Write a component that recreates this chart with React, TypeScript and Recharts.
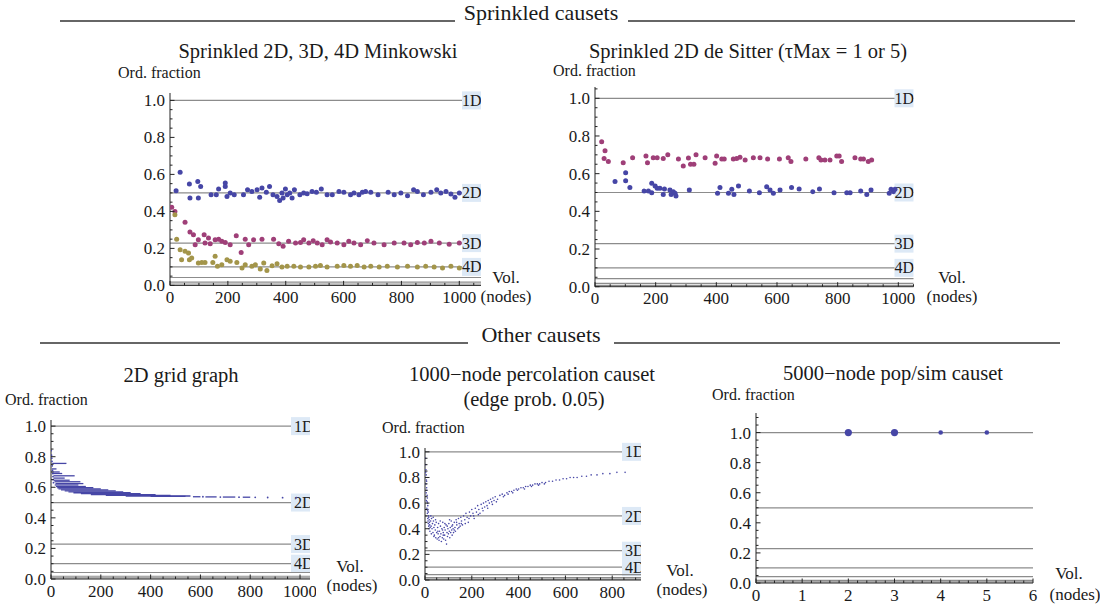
import { ReferenceLine, Scatter, ScatterChart, XAxis, YAxis } from 'recharts';

const FONT = "'Liberation Serif', 'Times New Roman', Times, serif";
const BLUE = '#4646a6';
const PURPLE = '#9f3f78';
const OLIVE = '#a3954a';
const REF = '#8c8c8c';
const INK = '#1a1a1a';

// ordering fraction of d-dim Minkowski: 1D .. 7D
const dimLines: [number, string][] = [
  [1, '1D'],
  [0.5, '2D'],
  [0.2286, '3D'],
  [0.1, '4D'],
  [0.0426, ''],
  [0.0179, ''],
  [0.0074, ''],
];

const yMajor = [0, 0.2, 0.4, 0.6, 0.8, 1.0];
const xMajor1000 = [0, 200, 400, 600, 800, 1000];
const xMajor800 = [0, 200, 400, 600, 800];
const xMajor6 = [0, 1, 2, 3, 4, 5, 6];

// sprinkled Minkowski
const mink2D: [number, number][] = [
  [21, 0.512], [35, 0.611], [67, 0.548], [69, 0.472], [96, 0.562], [98, 0.472], [106, 0.535], [142, 0.49],
  [160, 0.49], [168, 0.521], [191, 0.553], [191, 0.535], [197, 0.481], [208, 0.499], [222, 0.49], [254, 0.49],
  [268, 0.517], [283, 0.508], [301, 0.517], [310, 0.477], [318, 0.526], [333, 0.503], [344, 0.535], [356, 0.49],
  [370, 0.481], [379, 0.459], [387, 0.499], [391, 0.472], [399, 0.521], [405, 0.49], [414, 0.499], [422, 0.472],
  [430, 0.517], [449, 0.49], [462, 0.499], [474, 0.495], [491, 0.508], [506, 0.503], [523, 0.521], [543, 0.49],
  [561, 0.49], [584, 0.508], [601, 0.503], [624, 0.49], [636, 0.499], [653, 0.49], [665, 0.503], [676, 0.508],
  [694, 0.503], [719, 0.49], [754, 0.503], [775, 0.49], [798, 0.499], [821, 0.485], [842, 0.517], [855, 0.508],
  [876, 0.49], [902, 0.503], [922, 0.517], [936, 0.499], [954, 0.508], [971, 0.494], [985, 0.477], [1000, 0.499],
];
const mink3D: [number, number][] = [
  [6, 0.422], [17, 0.4], [52, 0.341], [69, 0.288], [81, 0.274], [87, 0.22], [98, 0.247], [118, 0.274],
  [121, 0.229], [133, 0.256], [139, 0.225], [156, 0.247], [168, 0.25], [179, 0.238], [191, 0.232], [208, 0.22],
  [229, 0.268], [246, 0.178], [260, 0.25], [272, 0.22], [289, 0.247], [318, 0.25], [358, 0.25], [376, 0.225],
  [391, 0.211], [410, 0.238], [434, 0.229], [451, 0.232], [462, 0.247], [480, 0.229], [495, 0.241], [509, 0.229],
  [526, 0.22], [543, 0.247], [555, 0.234], [578, 0.229], [601, 0.22], [618, 0.238], [636, 0.229], [659, 0.22],
  [682, 0.241], [705, 0.229], [740, 0.22], [775, 0.229], [809, 0.229], [832, 0.22], [855, 0.232], [879, 0.229],
  [902, 0.238], [931, 0.229], [965, 0.223], [1000, 0.229],
];
const mink4D: [number, number][] = [
  [17, 0.382], [23, 0.25], [35, 0.193], [40, 0.139], [52, 0.184], [64, 0.175], [67, 0.139], [75, 0.148],
  [98, 0.121], [110, 0.124], [121, 0.124], [148, 0.124], [156, 0.157], [164, 0.103], [179, 0.112], [197, 0.139],
  [208, 0.13], [231, 0.124], [249, 0.094], [260, 0.112], [283, 0.103], [295, 0.112], [312, 0.088], [324, 0.121],
  [335, 0.081], [353, 0.106], [370, 0.117], [387, 0.099], [405, 0.103], [428, 0.103], [451, 0.099], [480, 0.099],
  [503, 0.103], [520, 0.108], [543, 0.099], [578, 0.103], [601, 0.108], [624, 0.103], [647, 0.108], [671, 0.099],
  [694, 0.103], [723, 0.099], [751, 0.103], [786, 0.099], [821, 0.103], [855, 0.099], [884, 0.103], [913, 0.099],
  [942, 0.094], [971, 0.103], [1000, 0.094],
];

// sprinkled de Sitter
const deSitterUpper: [number, number][] = [
  [22, 0.77], [33, 0.722], [30, 0.681], [44, 0.664], [93, 0.658], [124, 0.685], [168, 0.694], [173, 0.658],
  [192, 0.685], [205, 0.685], [225, 0.68], [240, 0.7], [275, 0.678], [291, 0.64], [308, 0.683], [315, 0.65],
  [326, 0.65], [333, 0.7], [363, 0.685], [396, 0.655], [401, 0.694], [418, 0.678], [426, 0.678], [456, 0.678],
  [467, 0.681], [478, 0.687], [495, 0.673], [522, 0.685], [544, 0.685], [569, 0.678], [608, 0.678], [637, 0.685],
  [646, 0.664], [695, 0.678], [738, 0.685], [745, 0.673], [758, 0.673], [775, 0.673], [797, 0.694], [805, 0.694],
  [813, 0.664], [857, 0.685], [876, 0.678], [885, 0.678], [901, 0.664], [912, 0.673],
];
const deSitterLower: [number, number][] = [
  [66, 0.558], [101, 0.605], [101, 0.563], [115, 0.527], [162, 0.508], [176, 0.508], [187, 0.549], [187, 0.499],
  [198, 0.535], [205, 0.522], [214, 0.522], [225, 0.49], [229, 0.519], [247, 0.513], [251, 0.49], [258, 0.504],
  [264, 0.496], [267, 0.481], [311, 0.513], [404, 0.496], [412, 0.527], [440, 0.496], [451, 0.517], [458, 0.49],
  [473, 0.535], [509, 0.508], [542, 0.499], [566, 0.531], [577, 0.513], [588, 0.496], [610, 0.513], [648, 0.527],
  [673, 0.519], [718, 0.504], [740, 0.519], [788, 0.499], [830, 0.499], [841, 0.499], [876, 0.508], [896, 0.49],
  [910, 0.513], [970, 0.496], [976, 0.517], [984, 0.504], [989, 0.517],
];

// 2D grid graph: runs of nearly equal values [from, to, fraction]
const gridRuns: [number, number, number][] = [
  [5, 62, 0.756], [10, 95, 0.675], [14, 118, 0.636], [18, 130, 0.624], [4, 22, 0.72], [6, 35, 0.7],
  [8, 45, 0.69], [10, 55, 0.66], [12, 75, 0.646], [15, 110, 0.615], [20, 140, 0.605], [25, 170, 0.597],
  [30, 200, 0.59], [40, 230, 0.583], [55, 260, 0.576], [70, 290, 0.57], [90, 320, 0.564], [120, 360, 0.558],
  [160, 420, 0.552], [220, 480, 0.547], [300, 560, 0.543], [400, 540, 0.54], [570, 600, 0.538],
  [620, 665, 0.537], [690, 740, 0.536], [770, 800, 0.535],
];
const gridDots: [number, number][] = [
  [1, 0.84], [2, 0.81], [3, 0.79], [4, 0.77], [5, 0.74], [6, 0.71], [7, 0.69], [8, 0.67], [9, 0.65],
  [10, 0.63], [610, 0.538], [680, 0.536], [755, 0.535], [820, 0.534], [870, 0.533], [930, 0.532], [985, 0.532],
];

// percolation causet
const percolation: [number, number][] = [
  [2, 0.95], [3, 0.9], [4, 0.86], [5, 0.82], [6, 0.78], [4, 0.75], [7, 0.72], [8, 0.7], [5, 0.68], [9, 0.66],
  [10, 0.64], [6, 0.62], [11, 0.6], [12, 0.58], [8, 0.56], [13, 0.55], [14, 0.53], [10, 0.52], [15, 0.5],
  [16, 0.49], [12, 0.48], [18, 0.47], [19, 0.45], [14, 0.44], [20, 0.43], [22, 0.41], [17, 0.4],
  [3, 0.84], [7, 0.77], [9, 0.61], [11, 0.54], [13, 0.46], [16, 0.42], [21, 0.38], [25, 0.5], [27, 0.36],
  [24, 0.46], [26, 0.42], [28, 0.48], [30, 0.4], [32, 0.44], [34, 0.37], [36, 0.46], [38, 0.41], [40, 0.35],
  [42, 0.43], [44, 0.39], [46, 0.33], [48, 0.45], [50, 0.37], [52, 0.32], [54, 0.41], [56, 0.36], [58, 0.44],
  [60, 0.31], [62, 0.38], [64, 0.34], [66, 0.42], [68, 0.36], [70, 0.3], [72, 0.4], [74, 0.33], [76, 0.45],
  [78, 0.37], [80, 0.32], [82, 0.41], [84, 0.35], [86, 0.39], [88, 0.31], [90, 0.43], [92, 0.28], [94, 0.37],
  [96, 0.34], [98, 0.4], [100, 0.36], [102, 0.44], [104, 0.38], [106, 0.33], [108, 0.41], [110, 0.37],
  [35, 0.49], [45, 0.47], [55, 0.38], [65, 0.46], [75, 0.39], [85, 0.44], [95, 0.42], [105, 0.47],
  [115, 0.42], [125, 0.39], [135, 0.45], [145, 0.41], [155, 0.44], [38, 0.34], [58, 0.33], [78, 0.35],
  [112, 0.46], [114, 0.39], [116, 0.35], [118, 0.43], [120, 0.4], [122, 0.37], [125, 0.45], [128, 0.41],
  [130, 0.38], [133, 0.47], [136, 0.43], [140, 0.4], [143, 0.48], [146, 0.44], [150, 0.42], [153, 0.49],
  [156, 0.46], [160, 0.43], [165, 0.5], [170, 0.47], [175, 0.52], [180, 0.49], [185, 0.45], [190, 0.53],
  [195, 0.5], [200, 0.55], [205, 0.52], [210, 0.48], [215, 0.56], [220, 0.53], [225, 0.58], [230, 0.55],
  [235, 0.52], [240, 0.59], [245, 0.56], [250, 0.6], [255, 0.57], [260, 0.61], [265, 0.58], [270, 0.62],
  [172, 0.44], [188, 0.48], [208, 0.5], [228, 0.51], [248, 0.54], [268, 0.56], [288, 0.59], [305, 0.61],
  [275, 0.6], [280, 0.63], [285, 0.61], [290, 0.64], [295, 0.62], [300, 0.65], [310, 0.63], [320, 0.66],
  [330, 0.67], [340, 0.66], [350, 0.68], [360, 0.69], [370, 0.69], [380, 0.7], [390, 0.71], [400, 0.71],
  [410, 0.72], [420, 0.72], [430, 0.73], [440, 0.73], [450, 0.74], [460, 0.74], [470, 0.75], [480, 0.75],
  [335, 0.65], [355, 0.67], [375, 0.68], [395, 0.7], [425, 0.71], [455, 0.73], [485, 0.74], [510, 0.75],
  [490, 0.75], [500, 0.76], [515, 0.76], [530, 0.77], [545, 0.77], [560, 0.78], [575, 0.78], [590, 0.79],
  [605, 0.79], [620, 0.8], [635, 0.8], [650, 0.8], [670, 0.81], [690, 0.81], [710, 0.82], [735, 0.82],
  [760, 0.83], [790, 0.83], [820, 0.84], [855, 0.84],
];

// pop/sim causet
const popSimLarge: [number, number][] = [[2, 1], [3, 1]];
const popSimSmall: [number, number][] = [[4, 1], [5, 1]];

const toXY = (arr: [number, number][]) => arr.map(([x, y]) => ({ x, y }));

function steps(max: number, step: number) {
  const out: number[] = [];
  for (let v = 0; v <= max + 1e-9; v += step) out.push(Math.round(v * 1000) / 1000);
  return out;
}

const isIn = (list: number[], v: number) => list.some((m) => Math.abs(m - v) < 1e-6);

function dot(r: number, fill: string) {
  return (p: any) => <circle cx={p.cx} cy={p.cy} r={r} fill={fill} />;
}

let clipSeq = 0;

function DimLabel({ viewBox, text, clip }: any) {
  if (!text || !viewBox) return null;
  const right = viewBox.x + viewBox.width;
  const y = viewBox.y;
  const id = `dimclip-${clipSeq++}`;
  return (
    <g>
      <defs>
        <clipPath id={id}>
          <rect x={viewBox.x} y={y - 12} width={viewBox.width} height={24} />
        </clipPath>
      </defs>
      <rect x={right - 19} y={y - 9} width={19} height={18} fill="#dde9f6" />
      <text
        x={clip ? right - 16 : right - 19}
        y={y}
        dy="0.35em"
        fill={INK}
        style={{ fontFamily: FONT, fontSize: 16 }}
        clipPath={`url(#${id})`}
      >
        {text}
      </text>
    </g>
  );
}

type PanelProps = {
  left: number;
  top: number;
  width: number;
  height: number;
  xMax: number;
  yMax: number;
  xMajor: number[];
  xMinor: number;
  clipLabels?: boolean;
  labels?: boolean;
  children?: React.ReactNode;
};

function Panel({ left, top, width, height, xMax, yMax, xMajor, xMinor, clipLabels, labels = true, children }: PanelProps) {
  const yw = 50;
  const padTop = 10;
  const xh = 28;
  const padRight = 6;
  const xTicks = steps(xMax, xMinor);
  const yTicks = steps(yMax, 0.05);
  return (
    <div style={{ position: 'absolute', left: left - yw, top: top - padTop }}>
      <ScatterChart
        width={width + yw + padRight}
        height={height + padTop + xh}
        margin={{ top: padTop, right: padRight, bottom: 0, left: 0 }}
      >
        <XAxis
          type="number"
          dataKey="x"
          domain={[0, xMax]}
          ticks={xTicks}
          interval={0}
          tickSize={0}
          tickMargin={0}
          tickLine={false}
          height={xh}
          allowDataOverflow
          axisLine={{ stroke: '#222' }}
          tick={(p: any) => {
            const major = isIn(xMajor, p.payload.value);
            return (
              <g>
                <line x1={p.x} x2={p.x} y1={p.y} y2={p.y - (major ? 4.5 : 2.5)} stroke="#222" />
                {major && (
                  <text x={p.x} y={p.y + 4} dy="0.8em" textAnchor="middle" fill={INK} style={{ fontFamily: FONT, fontSize: 17 }}>
                    {p.payload.value}
                  </text>
                )}
              </g>
            );
          }}
        />
        <YAxis
          type="number"
          dataKey="y"
          domain={[0, yMax]}
          ticks={yTicks}
          interval={0}
          tickSize={0}
          tickMargin={0}
          tickLine={false}
          width={yw}
          allowDataOverflow
          axisLine={{ stroke: '#222' }}
          tick={(p: any) => {
            const major = isIn(yMajor, p.payload.value);
            return (
              <g>
                <line x1={p.x} x2={p.x + (major ? 4.5 : 2.5)} y1={p.y} y2={p.y} stroke="#222" />
                {major && (
                  <text x={p.x - 5} y={p.y} dy="0.35em" textAnchor="end" fill={INK} style={{ fontFamily: FONT, fontSize: 17 }}>
                    {p.payload.value.toFixed(1)}
                  </text>
                )}
              </g>
            );
          }}
        />
        {dimLines.map(([v, name]) => (
          <ReferenceLine
            key={name + v}
            y={v}
            stroke={REF}
            strokeWidth={1.2}
            label={labels && name ? (p: any) => <DimLabel {...p} text={name} clip={clipLabels} /> : undefined}
          />
        ))}
        {children}
      </ScatterChart>
    </div>
  );
}

function T({ x, y, size = 17, anchor = 'start', children }: any) {
  return (
    <text x={x} y={y} textAnchor={anchor} fill={INK} style={{ fontFamily: FONT, fontSize: size }}>
      {children}
    </text>
  );
}

export default function App() {
  return (
    <div style={{ position: 'absolute', left: 0, top: 0, width: 1100, height: 608, background: '#fff', fontFamily: FONT }}>
      <svg width={1100} height={608} style={{ position: 'absolute', left: 0, top: 0 }}>
        <T x={541} y={20} size={22} anchor="middle">Sprinkled causets</T>
        <line x1={60} x2={455} y1={21} y2={21} stroke="#333" strokeWidth={1.3} />
        <line x1={628} x2={1075} y1={21} y2={21} stroke="#333" strokeWidth={1.3} />
        <T x={318} y={58} size={20.5} anchor="middle">Sprinkled 2D, 3D, 4D Minkowski</T>
        <T x={118} y={78} size={16}>Ord. fraction</T>
        <T x={506} y={283} anchor="middle">Vol.</T>
        <T x={506} y={302} anchor="middle">(nodes)</T>
        <T x={748} y={58} size={20.5} anchor="middle">Sprinkled 2D de Sitter (τMax = 1 or 5)</T>
        <T x={553} y={76} size={16}>Ord. fraction</T>
        <T x={952} y={283} anchor="middle">Vol.</T>
        <T x={952} y={302} anchor="middle">(nodes)</T>

        <T x={541} y={342} size={22} anchor="middle">Other causets</T>
        <line x1={40} x2={468} y1={343} y2={343} stroke="#333" strokeWidth={1.3} />
        <line x1={614} x2={1060} y1={343} y2={343} stroke="#333" strokeWidth={1.3} />
        <T x={181} y={382} size={20.5} anchor="middle">2D grid graph</T>
        <T x={5} y={405} size={16}>Ord. fraction</T>
        <T x={350} y={572} anchor="middle">Vol.</T>
        <T x={352} y={591} anchor="middle">(nodes)</T>
        <T x={532} y={381} size={20.5} anchor="middle">1000−node percolation causet</T>
        <T x={534} y={406} size={20.5} anchor="middle">(edge prob. 0.05)</T>
        <T x={382} y={433} size={16}>Ord. fraction</T>
        <T x={680} y={576} anchor="middle">Vol.</T>
        <T x={682} y={595} anchor="middle">(nodes)</T>
        <T x={893} y={380} size={20.5} anchor="middle">5000−node pop/sim causet</T>
        <T x={712} y={400} size={16}>Ord. fraction</T>
        <T x={1069} y={579} anchor="middle">Vol.</T>
        <T x={1075} y={600} anchor="middle">(nodes)</T>
      </svg>

      <Panel left={170} top={93.3} width={311} height={192.4} xMax={1075} yMax={1.04} xMajor={xMajor1000} xMinor={50}>
        <Scatter data={toXY(mink2D)} shape={dot(2.5, BLUE)} isAnimationActive={false} />
        <Scatter data={toXY(mink3D)} shape={dot(2.5, PURPLE)} isAnimationActive={false} />
        <Scatter data={toXY(mink4D)} shape={dot(2.5, OLIVE)} isAnimationActive={false} />
      </Panel>

      <Panel left={595} top={87} width={318.5} height={199.7} xMax={1050} yMax={1.06} xMajor={xMajor1000} xMinor={50}>
        <Scatter data={toXY(deSitterUpper)} shape={dot(2.5, PURPLE)} isAnimationActive={false} />
        <Scatter data={toXY(deSitterLower)} shape={dot(2.5, BLUE)} isAnimationActive={false} />
      </Panel>

      <Panel left={51} top={420} width={259} height={159} xMax={1040} yMax={1.04} xMajor={xMajor1000} xMinor={50} clipLabels>
        {gridRuns.map(([a, b, v], i) => (
          <ReferenceLine
            key={`run-${i}`}
            segment={[{ x: a, y: v }, { x: b, y: v }]}
            stroke={BLUE}
            strokeWidth={1.3}
          />
        ))}
        <Scatter data={toXY(gridDots)} shape={dot(0.9, BLUE)} isAnimationActive={false} />
      </Panel>

      <Panel left={425} top={448} width={216} height={132} xMax={923} yMax={1.03} xMajor={xMajor800} xMinor={50} clipLabels>
        <Scatter data={toXY(percolation)} shape={dot(0.8, BLUE)} isAnimationActive={false} />
      </Panel>

      <Panel left={756} top={413} width={277} height={170} xMax={6} yMax={1.13} xMajor={xMajor6} xMinor={0.2} labels={false}>
        <Scatter data={toXY(popSimLarge)} shape={dot(3.6, BLUE)} isAnimationActive={false} />
        <Scatter data={toXY(popSimSmall)} shape={dot(2.3, BLUE)} isAnimationActive={false} />
      </Panel>
    </div>
  );
}
